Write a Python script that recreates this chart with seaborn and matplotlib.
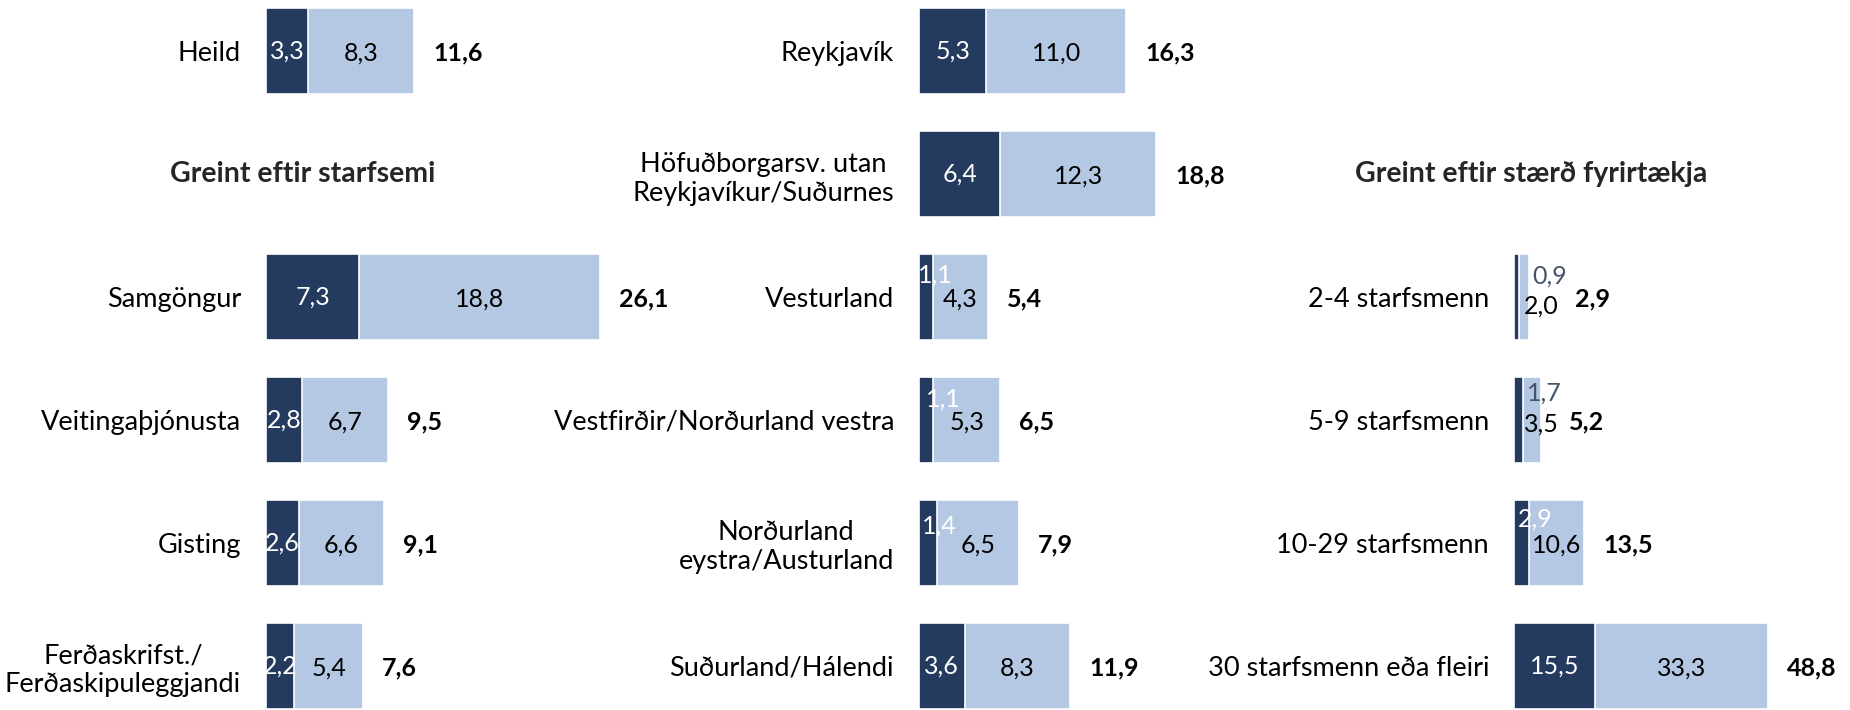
import matplotlib
matplotlib.use("Agg")
from matplotlib import pyplot as plt
from matplotlib import transforms
import seaborn as sns
import pandas as pd

# --- data -----------------------------------------------------------------
starf_cats = ["Heild", "Samgöngur", "Veitingaþjónusta", "Gisting",
              "Ferðaskrifst./\nFerðaskipuleggjandi"]
starf_dark = [3.3, 7.3, 2.8, 2.6, 2.2]
starf_light = [8.3, 18.8, 6.7, 6.6, 5.4]
starf_total = [11.6, 26.1, 9.5, 9.1, 7.6]

land_cats = ["Reykjavík", "Höfuðborgarsv. utan\nReykjavíkur/Suðurnes", "Vesturland",
             "Vestfirðir/Norðurland vestra", "Norðurland\neystra/Austurland",
             "Suðurland/Hálendi"]
land_dark = [5.3, 6.4, 1.1, 1.1, 1.4, 3.6]
land_light = [11.0, 12.3, 4.3, 5.3, 6.5, 8.3]
land_total = [16.3, 18.8, 5.4, 6.5, 7.9, 11.9]

staerd_cats = ["2-4 starfsmenn", "5-9 starfsmenn", "10-29 starfsmenn",
               "30 starfsmenn eða fleiri"]
staerd_dark = [0.9, 1.7, 2.9, 15.5]
staerd_light = [2.0, 3.5, 10.6, 33.3]
staerd_total = [2.9, 5.2, 13.5, 48.8]

title_starf = "Greint eftir starfsemi"
title_staerd = "Greint eftir stærð fyrirtækja"

# --- style ----------------------------------------------------------------
DARK = "#243a5e"
LIGHT = "#b4c7e3"
SLATE = "#44546a"
sns.set_theme(style="white")
plt.rcParams["font.family"] = ["Lato", "DejaVu Sans"]

W, H = 1850, 710
fig = plt.figure(figsize=(W / 100, H / 100), dpi=100)

# label nudges in pixels (dx, dy up) where Excel moved overlapping labels
nudge_dark = {"Vesturland": (9, 22), "Vestfirðir/Norðurland vestra": (17, 21),
              "Norðurland\neystra/Austurland": (11, 17),
              "2-4 starfsmenn": (33, 21), "5-9 starfsmenn": (26, 27),
              "10-29 starfsmenn": (14, 24)}
nudge_light = {"2-4 starfsmenn": (17, -9), "5-9 starfsmenn": (9, -4)}
dark_txt_col = {"2-4 starfsmenn": SLATE, "5-9 starfsmenn": SLATE}
total_gap = {"2-4 starfsmenn": 46, "5-9 starfsmenn": 28}

PX = 0.72  # pixels -> points at 100 dpi
NUM_FS = 18
CAT_FS = 19.5
TITLE_FS = 20.5


def fmt(v):
    return f"{v:.1f}".replace(".", ",")


def panel(x0, x1, px_per_unit, order, cats, dark, light, total):
    ax = fig.add_axes([x0 / W, 1 / H, (x1 - x0) / W, 701 / H])
    df = pd.DataFrame({"cat": cats, "dark": dark,
                       "stack": [d + l for d, l in zip(dark, light)]})
    sns.barplot(data=df, x="stack", y="cat", order=order, color=LIGHT,
                saturation=1, width=0.7, errorbar=None,
                edgecolor="white", linewidth=1.2, ax=ax)
    sns.barplot(data=df, x="dark", y="cat", order=order, color=DARK,
                saturation=1, width=0.7, errorbar=None,
                edgecolor="white", linewidth=1.2, ax=ax)
    ax.set_xlim(0, (x1 - x0) / px_per_unit)
    ax.set_ylim(len(order) - 1 + 0.35, -0.35)
    ax.set_xlabel("")
    ax.set_ylabel("")
    ax.set_xticks([])
    sns.despine(ax=ax, left=True, bottom=True)
    ax.tick_params(axis="y", length=0, pad=18, labelsize=CAT_FS, labelcolor="black")
    for t in ax.get_yticklabels():
        t.set_multialignment("center")

    for c, d, l, tot in zip(cats, dark, light, total):
        y = order.index(c)
        dx, dy = nudge_dark.get(c, (0, 0))
        ax.annotate(fmt(d), (d / 2, y), xytext=(dx * PX, dy * PX),
                    textcoords="offset points", ha="center", va="center",
                    fontsize=NUM_FS, color=dark_txt_col.get(c, "white"))
        dx, dy = nudge_light.get(c, (0, -2))
        ax.annotate(fmt(l), (d + l / 2, y), xytext=(dx * PX, dy * PX),
                    textcoords="offset points", ha="center", va="center",
                    fontsize=NUM_FS, color="black")
        ax.annotate(fmt(tot), (d + l, y), xytext=(total_gap.get(c, 19) * PX, -2 * PX),
                    textcoords="offset points", ha="left", va="center",
                    fontsize=NUM_FS, fontweight="bold", color="black",
                    annotation_clip=False)
    return ax


ax1 = panel(266, 900, 12.8, [starf_cats[0], " "] + starf_cats[1:],
            starf_cats, starf_dark, starf_light, starf_total)
ax2 = panel(919, 1490, 12.7, land_cats,
            land_cats, land_dark, land_light, land_total)
ax3 = panel(1514, 1840, 5.2, [" ", "  "] + staerd_cats,
            staerd_cats, staerd_dark, staerd_light, staerd_total)

tr1 = transforms.blended_transform_factory(fig.transFigure, ax1.transData)
ax1.text(303 / W, 1, title_starf, transform=tr1, ha="center", va="center",
         fontsize=TITLE_FS, fontweight="bold")
tr3 = transforms.blended_transform_factory(fig.transFigure, ax3.transData)
ax3.text(1531 / W, 1, title_staerd, transform=tr3, ha="center", va="center",
         fontsize=TITLE_FS, fontweight="bold")

fig.savefig("out.png", dpi=100, facecolor="white")
